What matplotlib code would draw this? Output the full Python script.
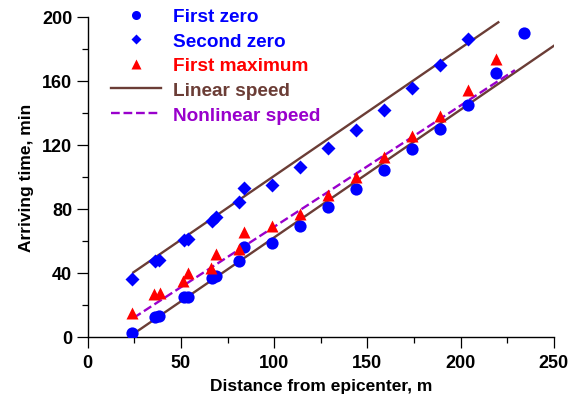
import matplotlib
matplotlib.use("Agg")
import matplotlib.pyplot as plt
from matplotlib.ticker import MultipleLocator
from matplotlib.lines import Line2D

plt.rcParams['font.family'] = ['Liberation Sans', 'DejaVu Sans']
plt.rcParams['font.weight'] = 'bold'

# First zero (circles)
fz_x = [24, 36, 38.5, 51.5, 54, 66.5, 69, 81, 84, 99, 114, 129, 144, 159, 174, 189, 204, 219, 234]
fz_y = [2.5, 12, 13, 24.5, 25, 36.5, 38, 47.5, 56, 58.5, 69, 81, 92, 104, 117, 130, 145, 165, 190]

# Second zero (diamonds)
sz_x = [24, 36, 38.5, 51.5, 54, 66.5, 69, 81, 84, 99, 114, 129, 144, 159, 174, 189, 204]
sz_y = [36, 47, 48, 60.5, 61, 72.5, 74.5, 84, 92.7, 95, 106.3, 117.7, 129.4, 141.9, 155.4, 169.6, 186]

# First maximum (triangles)
fm_x = [24, 35.5, 39, 51, 54, 66, 69, 81, 84, 99, 114, 129, 144, 159, 174, 189, 204, 219]
fm_y = [14.6, 26.7, 27, 35, 39.8, 42.7, 51.5, 54.5, 65.5, 69, 76.7, 88.6, 99.6, 112, 125.2, 138.1, 154.2, 173.6]

# Linear speed lines (endpoints)
lin1_x = [24.5, 220.2]
lin1_y = [40.2, 196.5]
lin2_x = [22.7, 250.6]
lin2_y = [0.3, 182.3]

# Nonlinear speed
nl_x = [24.5, 127.2, 229.1]
nl_y = [11.7, 89.2, 166.6]

BLUE = '#0000ff'
RED = '#ff0000'
BROWN = '#6b3d36'
PURPLE = '#9900cc'

fig = plt.figure(figsize=(5.71, 4.02), dpi=100)
ax = fig.add_axes([0.1536, 0.160, 0.8164, 0.796])

ax.plot(lin1_x, lin1_y, color=BROWN, lw=1.7, zorder=2)
ax.plot(lin2_x, lin2_y, color=BROWN, lw=1.7, zorder=2)
ax.plot(nl_x, nl_y, color=PURPLE, lw=1.7, ls='--', zorder=2)

ax.plot(fz_x, fz_y, 'o', color=BLUE, ms=8.8, mec='none', zorder=3)
ax.plot(sz_x, sz_y, 'D', color=BLUE, ms=6.8, mec='none', zorder=3)
ax.plot(fm_x, fm_y, '^', color=RED, ms=9.2, mec='none', zorder=3)

ax.set_xlim(0, 250)
ax.set_ylim(0, 200)
ax.xaxis.set_major_locator(MultipleLocator(50))
ax.xaxis.set_minor_locator(MultipleLocator(25))
ax.yaxis.set_major_locator(MultipleLocator(40))
ax.yaxis.set_minor_locator(MultipleLocator(20))
ax.spines['top'].set_visible(False)
ax.spines['right'].set_visible(False)
for s in ('left', 'bottom'):
    ax.spines[s].set_linewidth(1.0)
ax.tick_params(which='major', direction='out', length=7.7, width=0.9, labelsize=13)
ax.tick_params(axis='x', which='major', pad=5)
ax.tick_params(axis='y', which='major', pad=3.5)
ax.tick_params(which='minor', direction='out', length=4, width=0.9)
for lab in ax.get_xticklabels() + ax.get_yticklabels():
    lab.set_fontweight('bold')

ax.set_xlabel('Distance from epicenter, m', fontsize=12.5, fontweight='bold', labelpad=5)
ax.set_ylabel('Arriving time, min', fontsize=12.5, fontweight='bold', labelpad=6)

handles = [
    Line2D([], [], marker='o', ls='none', color=BLUE, ms=6.5, mec='none'),
    Line2D([], [], marker='D', ls='none', color=BLUE, ms=5.0, mec='none'),
    Line2D([], [], marker='^', ls='none', color=RED, ms=6.5, mec='none'),
    Line2D([], [], color=BROWN, lw=1.7),
    Line2D([], [], color=PURPLE, lw=1.7, ls='--'),
]
labels = ['First zero', 'Second zero', 'First maximum', 'Linear speed', 'Nonlinear speed']
leg = ax.legend(handles, labels, loc='upper left', bbox_to_anchor=(0.05, 1.027),
                frameon=False, handlelength=2.65, handletextpad=0.6,
                labelspacing=0.38, borderpad=0, borderaxespad=0,
                prop={'weight': 'bold', 'size': 13.7})
for t, c in zip(leg.get_texts(), [BLUE, BLUE, RED, BROWN, PURPLE]):
    t.set_color(c)

fig.savefig('out.png', dpi=100)
